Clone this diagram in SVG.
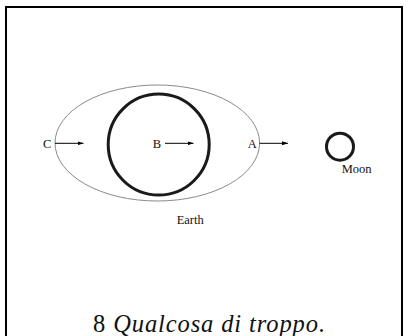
<svg xmlns="http://www.w3.org/2000/svg" width="408" height="336" viewBox="0 0 408 336">
<style>
.lbl{font-family:"Liberation Serif","Times New Roman",serif;font-size:12.5px;fill:#111}
.arr{stroke:#000;stroke-width:1;fill:none}
</style>
<defs>
<marker id="ah" viewBox="0 0 6 4" refX="6" refY="2" markerWidth="6" markerHeight="4" markerUnits="userSpaceOnUse" orient="auto">
<path d="M0,0 L6,2 L0,4 Z" fill="#000"/>
</marker>
</defs>
<rect width="408" height="336" fill="#fff"/>
<path d="M6,336 V7 H402 V336" fill="none" stroke="#000" stroke-width="2"/>
<g id="orbit">
<ellipse cx="157.3" cy="143" rx="102.3" ry="58" fill="none" stroke="#8a8a8a" stroke-width="1"/>
</g>
<g id="earth">
<circle cx="158.7" cy="144.6" r="50.5" fill="none" stroke="#1a1a1a" stroke-width="3"/>
<text class="lbl" x="176.7" y="224">Earth</text>
</g>
<g id="moon">
<circle cx="340" cy="146.7" r="13.5" fill="none" stroke="#1a1a1a" stroke-width="3"/>
<text class="lbl" x="341.7" y="172.7">Moon</text>
</g>
<g id="pointC"><text class="lbl" x="43" y="147.8">C</text></g>
<g id="pointB"><text class="lbl" x="152.8" y="147.8">B</text></g>
<g id="pointA"><text class="lbl" x="247.8" y="147.8">A</text></g>
<g id="connectors">
<line class="arr" x1="55" y1="143.3" x2="83.5" y2="143.3" marker-end="url(#ah)"/>
<line class="arr" x1="165" y1="143.3" x2="193.5" y2="143.3" marker-end="url(#ah)"/>
<line class="arr" x1="259.5" y1="143.3" x2="288" y2="143.3" marker-end="url(#ah)"/>
</g>
<text x="93" y="331.5" font-family="Liberation Serif, 'Times New Roman', serif" font-size="24.5" fill="#111" textLength="232" lengthAdjust="spacing">8 <tspan font-style="italic">Qualcosa di troppo.</tspan></text>
</svg>
